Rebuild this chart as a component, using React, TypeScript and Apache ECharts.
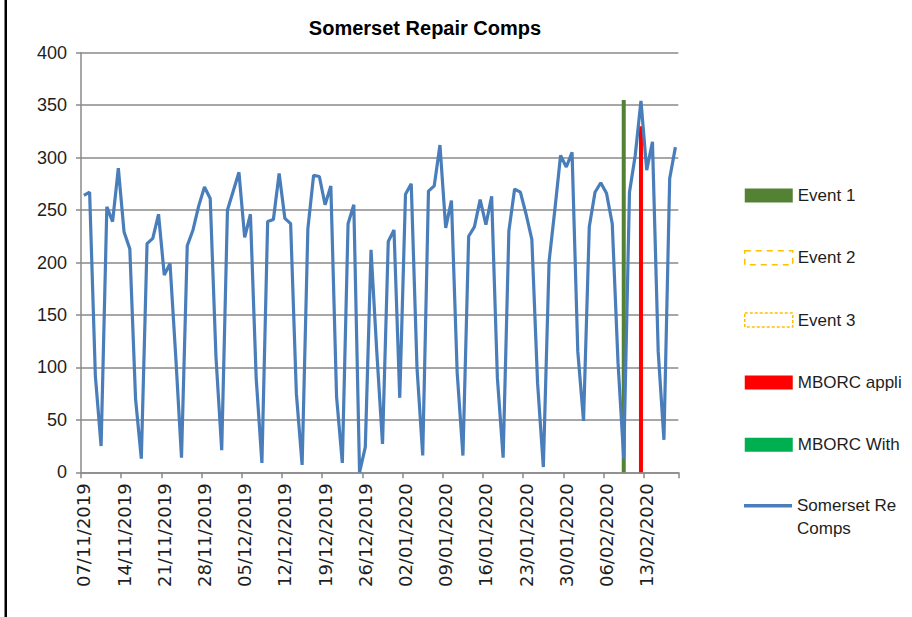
import React, { useEffect, useRef } from "react";
import * as echarts from "echarts";

const chartTitle = "Somerset Repair Comps";

const dates: string[] = [
  "07/11/2019", "08/11/2019", "09/11/2019", "10/11/2019", "11/11/2019", "12/11/2019", "13/11/2019",
  "14/11/2019", "15/11/2019", "16/11/2019", "17/11/2019", "18/11/2019", "19/11/2019", "20/11/2019",
  "21/11/2019", "22/11/2019", "23/11/2019", "24/11/2019", "25/11/2019", "26/11/2019", "27/11/2019",
  "28/11/2019", "29/11/2019", "30/11/2019", "01/12/2019", "02/12/2019", "03/12/2019", "04/12/2019",
  "05/12/2019", "06/12/2019", "07/12/2019", "08/12/2019", "09/12/2019", "10/12/2019", "11/12/2019",
  "12/12/2019", "13/12/2019", "14/12/2019", "15/12/2019", "16/12/2019", "17/12/2019", "18/12/2019",
  "19/12/2019", "20/12/2019", "21/12/2019", "22/12/2019", "23/12/2019", "24/12/2019", "25/12/2019",
  "26/12/2019", "27/12/2019", "28/12/2019", "29/12/2019", "30/12/2019", "31/12/2019", "01/01/2020",
  "02/01/2020", "03/01/2020", "04/01/2020", "05/01/2020", "06/01/2020", "07/01/2020", "08/01/2020",
  "09/01/2020", "10/01/2020", "11/01/2020", "12/01/2020", "13/01/2020", "14/01/2020", "15/01/2020",
  "16/01/2020", "17/01/2020", "18/01/2020", "19/01/2020", "20/01/2020", "21/01/2020", "22/01/2020",
  "23/01/2020", "24/01/2020", "25/01/2020", "26/01/2020", "27/01/2020", "28/01/2020", "29/01/2020",
  "30/01/2020", "31/01/2020", "01/02/2020", "02/02/2020", "03/02/2020", "04/02/2020", "05/02/2020",
  "06/02/2020", "07/02/2020", "08/02/2020", "09/02/2020", "10/02/2020", "11/02/2020", "12/02/2020",
  "13/02/2020", "14/02/2020", "15/02/2020", "16/02/2020", "17/02/2020", "18/02/2020",
];

const repairComps: number[] = [
  264, 267, 92, 25, 253, 239, 290, 229, 213, 70,
  13, 218, 223, 246, 188, 199, 110, 14, 216, 231,
  254, 272, 261, 110, 21, 250, 268, 286, 224, 246,
  90, 9, 239, 241, 285, 242, 237, 75, 7, 232,
  283, 282, 255, 273, 72, 9, 237, 255, 0, 24,
  212, 115, 27, 220, 231, 71, 265, 275, 100, 16,
  268, 273, 312, 233, 259, 95, 16, 225, 234, 260,
  236, 263, 90, 14, 230, 270, 267, 246, 222, 85,
  5, 201, 250, 302, 291, 305, 115, 49, 234, 267,
  276, 266, 237, 105, 13, 267, 302, 354, 288, 315,
  115, 31, 280, 310,
];

const event1Date = "09/02/2020";
const event1Value = 355;
const mborcAppliedDate = "12/02/2020";
const mborcAppliedValue = 330;

const yMin = 0;
const yMax = 400;
const yInterval = 50;

const legendNames = ["Event 1", "Event 2", "Event 3", "MBORC applied", "MBORC Withdrawn"];
// Legend texts as they are visible in the reference (cut by the chart area's edge)
const legendShown = ["Event 1", "Event 2", "Event 3", "MBORC appli", "MBORC With"];
const lineName = "Somerset Repair Comps";
const lineShown = ["Somerset Re", "Comps"];

export default function App() {
  const ref = useRef<HTMLDivElement>(null);

  useEffect(() => {
    if (!ref.current) return;
    const chart = echarts.init(ref.current, null, { renderer: "svg" });
    const at = (date: string, value: number) => dates.map((d) => (d === date ? value : null));
    const none = dates.map(() => null);
    const font = "'Liberation Sans', Arial, sans-serif";
    const gridColor = "#8a8a8a";
    const textColor = "#1e1e1e";
    const lineColor = "#4A7EBB";

    const barBase = { type: "bar", barWidth: 4, barGap: "-100%", z: 1 };

    chart.setOption({
      animation: false,
      backgroundColor: "#ffffff",
      title: {
        text: chartTitle,
        left: 425,
        top: 18,
        padding: 0,
        textAlign: "center",
        textStyle: { fontFamily: font, fontSize: 20, fontWeight: "bold", color: "#000" },
      },
      graphic: [
        { type: "rect", shape: { x: 4.5, y: 0, width: 2.5, height: 617 }, style: { fill: "#000" } },
      ],
      grid: { left: 81, right: 912 - 678.3, top: 52.7, bottom: 144.7, containLabel: false },
      legend: [
        {
          orient: "vertical",
          left: 744,
          top: 186.5,
          padding: 0,
          itemWidth: 48,
          itemHeight: 14,
          itemGap: 44.3,
          selectedMode: false,
          formatter: (name: string) => legendShown[legendNames.indexOf(name)] ?? name,
          textStyle: { fontFamily: font, fontSize: 17, lineHeight: 18, color: textColor },
          data: [
            { name: legendNames[0], icon: "rect", itemStyle: { color: "#548235", borderWidth: 0 } },
            {
              name: legendNames[1],
              icon: "rect",
              itemStyle: { color: "rgba(255,255,255,0)", borderColor: "#FFC000", borderWidth: 1.5, borderType: [6, 5] },
            },
            {
              name: legendNames[2],
              icon: "rect",
              itemStyle: { color: "rgba(255,255,255,0)", borderColor: "#FFC000", borderWidth: 1.5, borderType: [3, 2] },
            },
            { name: legendNames[3], icon: "rect", itemStyle: { color: "#FF0000", borderWidth: 0 } },
            { name: legendNames[4], icon: "rect", itemStyle: { color: "#00B050", borderWidth: 0 } },
          ],
        },
        {
          orient: "vertical",
          left: 744,
          top: 471.3,
          padding: 0,
          itemWidth: 48,
          itemHeight: 3.4,
          selectedMode: false,
          formatter: () => "\n" + lineShown.join("\n"),
          textStyle: { fontFamily: font, fontSize: 17, lineHeight: 23, color: textColor },
          data: [{ name: lineName, icon: "rect", itemStyle: { color: lineColor, borderWidth: 0 } }],
        },
      ],
      xAxis: {
        type: "category",
        data: dates,
        boundaryGap: true,
        axisLine: { show: true, lineStyle: { color: gridColor, width: 1.5 } },
        axisTick: { show: true, interval: 6, length: 6, lineStyle: { color: gridColor, width: 1.5 } },
        axisLabel: {
          interval: 6,
          rotate: 90,
          margin: 11,
          fontFamily: "'DejaVu Sans', sans-serif",
          fontSize: 18,
          color: textColor,
        },
        splitLine: { show: false },
      },
      yAxis: {
        type: "value",
        min: yMin,
        max: yMax,
        interval: yInterval,
        axisLine: { show: true, lineStyle: { color: gridColor, width: 1.5 } },
        axisTick: { show: true, length: 5, lineStyle: { color: gridColor, width: 1.5 } },
        axisLabel: { margin: 14, fontFamily: font, fontSize: 18, color: textColor },
        splitLine: { show: true, lineStyle: { color: gridColor, width: 1.5 } },
      },
      series: [
        { ...barBase, name: legendNames[0], data: at(event1Date, event1Value), itemStyle: { color: "#548235" } },
        { ...barBase, name: legendNames[1], data: none, itemStyle: { color: "#FFC000" } },
        { ...barBase, name: legendNames[2], data: none, itemStyle: { color: "#FFC000" } },
        { ...barBase, name: legendNames[3], data: at(mborcAppliedDate, mborcAppliedValue), itemStyle: { color: "#FF0000" } },
        { ...barBase, name: legendNames[4], data: none, itemStyle: { color: "#00B050" } },
        {
          type: "line",
          name: lineName,
          data: repairComps,
          symbol: "none",
          z: 3,
          lineStyle: { color: lineColor, width: 3.2 },
          itemStyle: { color: lineColor },
        },
      ],
    });

    return () => chart.dispose();
  }, []);

  return (
    <div
      ref={ref}
      style={{ position: "absolute", left: 0, top: 0, width: 912, height: 617, overflow: "hidden", background: "#fff" }}
    />
  );
}
